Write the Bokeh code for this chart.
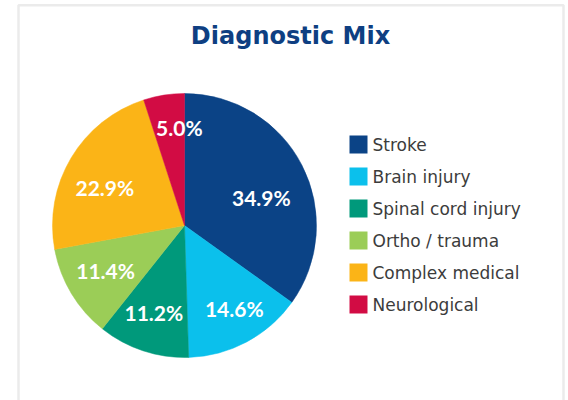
import math
from bokeh.plotting import figure
from bokeh.models import ColumnDataSource, Range1d
from bokeh.core.properties import value
from bokeh.embed import file_html
from bokeh.resources import INLINE

# ---- data ----
categories = ["Stroke", "Brain injury", "Spinal cord injury", "Ortho / trauma",
              "Complex medical", "Neurological"]
shares = [34.9, 14.6, 11.2, 11.4, 22.9, 5.0]
colors = ["#0b4386", "#0bc0ec", "#00997b", "#9bcd57", "#fbb417", "#d20c44"]
title_text = "Diagnostic Mix"

# ---- layout (page pixels) ----
S = 132.0            # pixels per data unit (pie radius = 1)
CX, CY = 184.0, 225.0
FIG_W, FIG_H = 568, 400


def dx(px):
    return (px - CX) / S


def dy(py):
    return (CY - py) / S


# per-label placement tweaks (fraction of radius, angle nudge in degrees)
label_r = [0.62, 0.73, 0.70, 0.69, 0.67, 0.74]
label_nudge = [-7, 3, -1, -1, 5, -6]

total = sum(shares)
starts, ends, lx, ly, texts = [], [], [], [], []
cum = 0.0
for i, v in enumerate(shares):
    a0 = math.pi / 2 - 2 * math.pi * cum / total
    cum += v
    a1 = math.pi / 2 - 2 * math.pi * cum / total
    starts.append(a0)
    ends.append(a1)
    mid = (a0 + a1) / 2 + math.radians(label_nudge[i])
    lx.append(label_r[i] * math.cos(mid))
    ly.append(label_r[i] * math.sin(mid))
    texts.append(f"{v:.1f}%")

src = ColumnDataSource(dict(cat=categories, start=starts, end=ends, color=colors,
                            lx=lx, ly=ly, txt=texts))

p = figure(width=FIG_W, height=FIG_H, output_backend="svg", toolbar_location=None,
           x_range=Range1d(dx(0), dx(FIG_W)),
           y_range=Range1d(dy(FIG_H), dy(0)),
           x_axis_location=None, y_axis_location=None, min_border=0,
           outline_line_color=None, background_fill_color="white",
           border_fill_color="white")
p.grid.visible = False

# card border
p.quad(left=[dx(18)], right=[dx(563)], top=[dy(4.8)], bottom=[dy(520)],
       fill_alpha=0, line_color="#ebebeb", line_width=2.5)

# pie
p.wedge(x=0, y=0, radius=1, start_angle="start", end_angle="end",
        direction="clock", fill_color="color", line_color="color",
        line_width=0.5, source=src)

# slice labels
p.text(x="lx", y="ly", text="txt", source=src, text_color="white",
       text_font=value("Lato"), text_font_style="bold", text_font_size="21px",
       text_align="center", text_baseline="middle")

# title
p.text(x=[dx(290)], y=[dy(35.5)], text=[title_text], text_color="#0e3f82",
       text_font=value("DejaVu Sans"), text_font_style="bold",
       text_font_size="24px", text_align="center", text_baseline="middle")

# legend
row_y = [dy(144 + 32 * i) for i in range(len(categories))]
p.rect(x=[dx(358)] * len(categories), y=row_y, width=18, height=18,
       width_units="screen", height_units="screen", fill_color=colors,
       line_color=None)
p.text(x=[dx(372)] * len(categories), y=row_y, text=categories,
       text_color="#3c3c3c", text_font=value("DejaVu Sans"),
       text_font_size="17px", text_align="left", text_baseline="middle")

open("out.html", "w").write(file_html(p, INLINE))
